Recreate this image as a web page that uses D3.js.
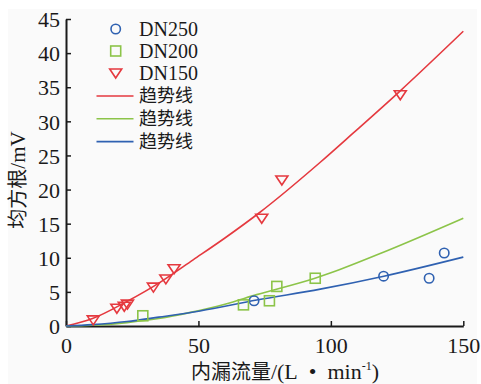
<!DOCTYPE html>
<html>
<head>
<meta charset="utf-8">
<script src="https://cdn.jsdelivr.net/npm/d3@7"></script>
<style>
  body { margin: 0; background: #fff; }
</style>
</head>
<body>
<div id="chart"></div>
<script>
// scatter data: [flow, rms]
var dn250 = [[71, 3.7], [119.9, 7.3], [137.1, 7.0], [142.8, 10.7]];
var dn200 = [[29, 1.5], [67, 3.1], [76.8, 3.7], [79.6, 5.8], [94.1, 7.0]];
var dn150 = [[10.3, 0.9], [19.2, 2.6], [22, 2.9], [23.2, 3.2], [33, 5.7], [37.7, 6.9], [40.8, 8.4],
             [73.9, 15.8], [81.5, 21.4], [126.2, 33.9]];

// trend lines, sampled along the drawn curves
var trend150 = [[0, 0], [10, 1.1], [23, 3.6], [35.5, 6.4], [48, 9.7], [60, 12.9], [73, 16.6],
                [96, 24.0], [108.5, 28.3], [126, 34.4], [150, 43.2]];
var trend200 = [[0, 0], [10, 0.1], [23, 0.5], [35, 1.1], [47, 2.0], [60, 3.2], [72, 4.6],
                [94, 7.0], [100, 7.8], [121, 11.0], [150, 15.8]];
var trend250 = [[0, 0], [10, 0.2], [23, 0.65], [35, 1.3], [50.6, 2.2], [72, 3.8], [96, 5.4],
                [120, 7.3], [150, 10.1]];

var xTicks = [0, 50, 100, 150];
var yTicks = [0, 5, 10, 15, 20, 25, 30, 35, 40, 45];

var red = "#e5393f", green = "#8cc449", blue = "#2f61b1";
var serif = "'Liberation Serif', Tinos, 'DejaVu Serif', serif";
var cjk = "'Noto Sans CJK SC', 'Noto Sans', sans-serif";

var W = 481, H = 384;
var svg = d3.select("#chart").append("svg").attr("width", W).attr("height", H);

svg.append("rect").attr("x", 8).attr("y", 9).attr("width", 469).attr("height", 375).attr("fill", "#fafafa");

var x = d3.scaleLinear().domain([0, 150]).range([66, 463.3]);
var y = d3.scaleLinear().domain([0, 45]).range([326, 19]);

// axes
var xAxis = d3.axisBottom(x).tickValues(xTicks).tickSizeInner(-5).tickSizeOuter(0).tickPadding(10);
var gx = svg.append("g").attr("transform", "translate(0,326)").call(xAxis);
var yAxis = d3.axisLeft(y).tickValues(yTicks).tickSizeInner(-5).tickSizeOuter(0).tickPadding(6);
var gy = svg.append("g").attr("transform", "translate(66,0)").call(yAxis);

[gx, gy].forEach(function(g) {
  g.attr("font-family", null);
  g.select(".domain").attr("stroke", "#1a1a1a").attr("stroke-width", 2);
  g.selectAll(".tick line").attr("stroke", "#1a1a1a").attr("stroke-width", 1.5);
  g.selectAll(".tick text").style("font-family", serif).style("font-size", "22px").attr("fill", "#1a1a1a");
});
gx.selectAll(".tick text").attr("dy", "0.75em");
gy.selectAll(".tick text").attr("dy", "0.35em");

// trend lines
var line = d3.line().curve(d3.curveMonotoneX)
  .x(function(d) { return x(d[0]); }).y(function(d) { return y(d[1]); });
[[trend150, red], [trend200, green], [trend250, blue]].forEach(function(t) {
  svg.append("path").datum(t[0]).attr("d", line)
    .attr("fill", "none").attr("stroke", t[1]).attr("stroke-width", 1.6);
});

// markers
function circle(g, cx, cy) {
  g.append("circle").attr("cx", cx).attr("cy", cy).attr("r", 4.7)
    .attr("fill", "none").attr("stroke", blue).attr("stroke-width", 1.6);
}
function square(g, cx, cy) {
  g.append("rect").attr("x", cx - 5).attr("y", cy - 5).attr("width", 10).attr("height", 10)
    .attr("fill", "none").attr("stroke", green).attr("stroke-width", 1.6);
}
function tri(g, cx, cy) {
  g.append("path").attr("d", "M" + (cx - 6) + "," + (cy - 4) + "L" + (cx + 6) + "," + (cy - 4) + "L" + cx + "," + (cy + 5) + "Z")
    .attr("fill", "none").attr("stroke", red).attr("stroke-width", 1.6);
}
var marks = svg.append("g");
dn250.forEach(function(d) { circle(marks, x(d[0]), y(d[1])); });
dn200.forEach(function(d) { square(marks, x(d[0]), y(d[1])); });
dn150.forEach(function(d) { tri(marks, x(d[0]), y(d[1])); });

// legend
var lg = svg.append("g");
var names = ["DN250", "DN200", "DN150"];
circle(lg, 115.7, 29);
square(lg, 115.7, 51);
tri(lg, 115.7, 73);
names.forEach(function(n, i) {
  lg.append("text").attr("x", 139).attr("y", 29 + i * 22).attr("dy", "0.35em")
    .style("font-family", serif).style("font-size", "20px").attr("fill", "#1a1a1a").text(n);
});
[red, green, blue].forEach(function(c, i) {
  var ly = 96 + i * 22.8;
  lg.append("line").attr("x1", 96.5).attr("x2", 133.5).attr("y1", ly).attr("y2", ly)
    .attr("stroke", c).attr("stroke-width", 1.6);
  lg.append("text").attr("x", 139).attr("y", ly).attr("dy", "0.36em")
    .style("font-family", cjk).style("font-size", "18px").attr("fill", "#1a1a1a").text("趋势线");
});

// axis titles
var xt = svg.append("text").attr("x", 285).attr("y", 379).attr("text-anchor", "middle")
  .style("font-family", serif).style("font-size", "22px").attr("fill", "#1a1a1a");
xt.append("tspan").style("font-family", cjk).style("font-size", "20px").text("内漏流量");
xt.append("tspan").text("/(L\u2002•\u2002min");
xt.append("tspan").style("font-size", "12px").attr("dy", -9).text("-1");
xt.append("tspan").attr("dy", 9).text(")");

var yt = svg.append("text").attr("transform", "translate(25,180) rotate(-90)").attr("text-anchor", "middle")
  .style("font-family", serif).style("font-size", "21px").attr("fill", "#1a1a1a");
yt.append("tspan").style("font-family", cjk).style("font-size", "20px").text("均方根");
yt.append("tspan").text("/mV");
</script>
</body>
</html>
